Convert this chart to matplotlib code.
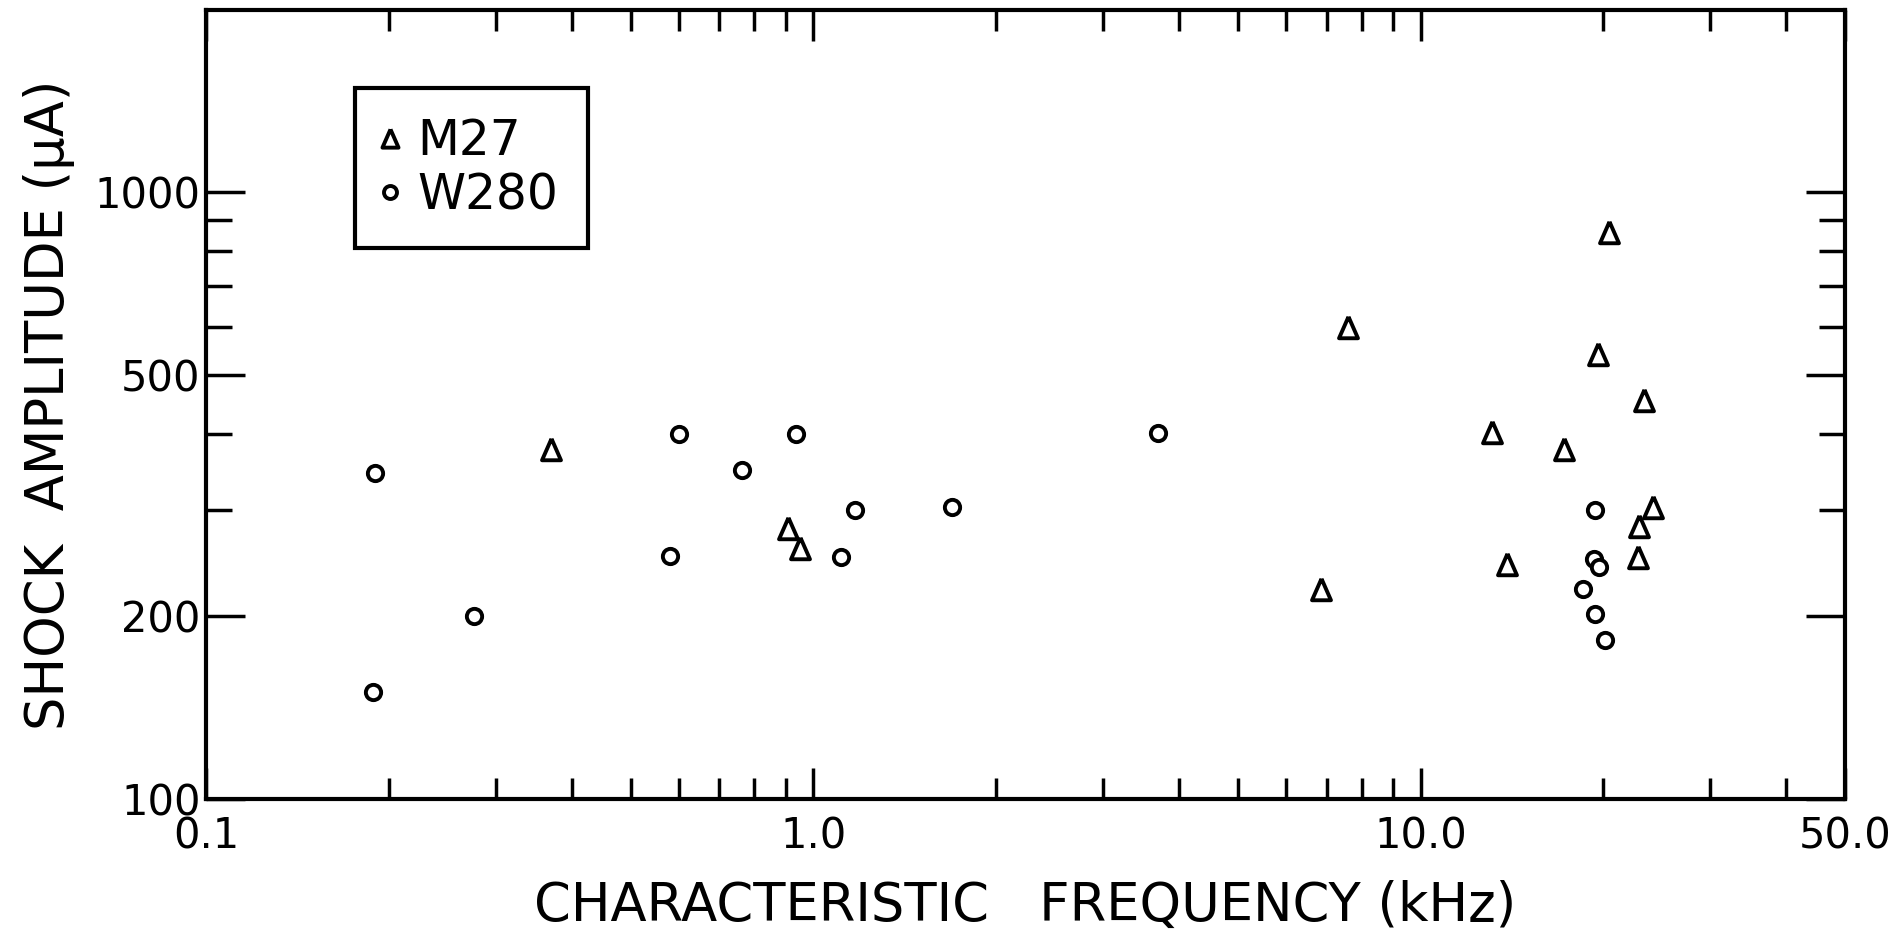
import numpy as np
import matplotlib
matplotlib.use("Agg")
import matplotlib.pyplot as plt
from matplotlib.ticker import FixedLocator, FixedFormatter, NullFormatter

# DATA
m27_freq = [0.37, 0.91, 0.95, 6.85, 7.6, 13.1, 13.9, 17.2, 20.4, 19.6, 23.3, 24.1, 22.9, 22.8]
m27_amp = [378, 280, 259, 222, 600, 403, 244, 378, 860, 542, 454, 303, 282, 251]

w280_freq = [0.19, 0.188, 0.276, 0.58, 0.60, 0.763, 0.936, 1.11, 1.17, 1.69, 3.69,
             19.4, 19.3, 19.7, 18.5, 19.4, 20.1]
w280_amp = [345, 150, 200, 252, 400, 349, 400, 251, 300, 303, 401,
            300, 249, 241, 222, 202, 183]

x_major = [0.1, 1.0, 10.0, 50.0]
x_major_labels = ["0.1", "1.0", "10.0", "50.0"]
x_minor = [0.2, 0.3, 0.4, 0.5, 0.6, 0.7, 0.8, 0.9, 2, 3, 4, 5, 6, 7, 8, 9, 20, 30, 40]
y_major = [100, 200, 500, 1000]
y_major_labels = ["100", "200", "500", "1000"]
y_minor = [300, 400, 600, 700, 800, 900]

# PLOTTING
fig = plt.figure(figsize=(18.92, 9.35), dpi=100)
ax = fig.add_axes([0.1089, 0.1455, 0.8663, 0.8439])

tri = [(0, 1), (-0.88, -1), (0.88, -1), (0, 1)]
ax.plot(m27_freq, m27_amp, linestyle="none", marker=tri, markersize=15.5,
        markerfacecolor="white", markeredgecolor="black", markeredgewidth=2.8, label="M27")
ax.plot(w280_freq, w280_amp, linestyle="none", marker="o", markersize=11,
        markerfacecolor="white", markeredgecolor="black", markeredgewidth=2.8, label="W280")

ax.set_xscale("log")
ax.set_yscale("log")
ax.set_xlim(0.1, 50)
ax.set_ylim(100, 2000)

ax.xaxis.set_major_locator(FixedLocator(x_major))
ax.xaxis.set_major_formatter(FixedFormatter(x_major_labels))
ax.xaxis.set_minor_locator(FixedLocator(x_minor))
ax.xaxis.set_minor_formatter(NullFormatter())
ax.yaxis.set_major_locator(FixedLocator(y_major))
ax.yaxis.set_major_formatter(FixedFormatter(y_major_labels))
ax.yaxis.set_minor_locator(FixedLocator(y_minor))
ax.yaxis.set_minor_formatter(NullFormatter())

ax.tick_params(axis="x", which="major", direction="in", top=True, length=22, width=2.5,
               pad=12, labelsize=30)
ax.tick_params(axis="x", which="minor", direction="in", top=True, length=15, width=2.5)
ax.tick_params(axis="y", which="major", direction="in", right=True, length=28, width=2.5,
               pad=4, labelsize=30)
ax.tick_params(axis="y", which="minor", direction="in", right=True, length=19, width=2.5)

for sp in ax.spines.values():
    sp.set_linewidth(3)

ax.set_xlabel("CHARACTERISTIC   FREQUENCY (kHz)", fontsize=38, labelpad=16)
ax.set_ylabel("SHOCK  AMPLITUDE (\u03bcA)", fontsize=38, labelpad=14)

leg = ax.legend(loc="upper left", bbox_to_anchor=(0.0909, 0.901), borderaxespad=0,
                fontsize=35, frameon=True, fancybox=False, edgecolor="black",
                handlelength=0.24, handletextpad=0.45, borderpad=0.6, labelspacing=0.12,
                markerscale=0.85)
leg.get_frame().set_linewidth(3)
leg.get_frame().set_alpha(1)

plt.savefig("out.png", dpi=100, facecolor="white")
